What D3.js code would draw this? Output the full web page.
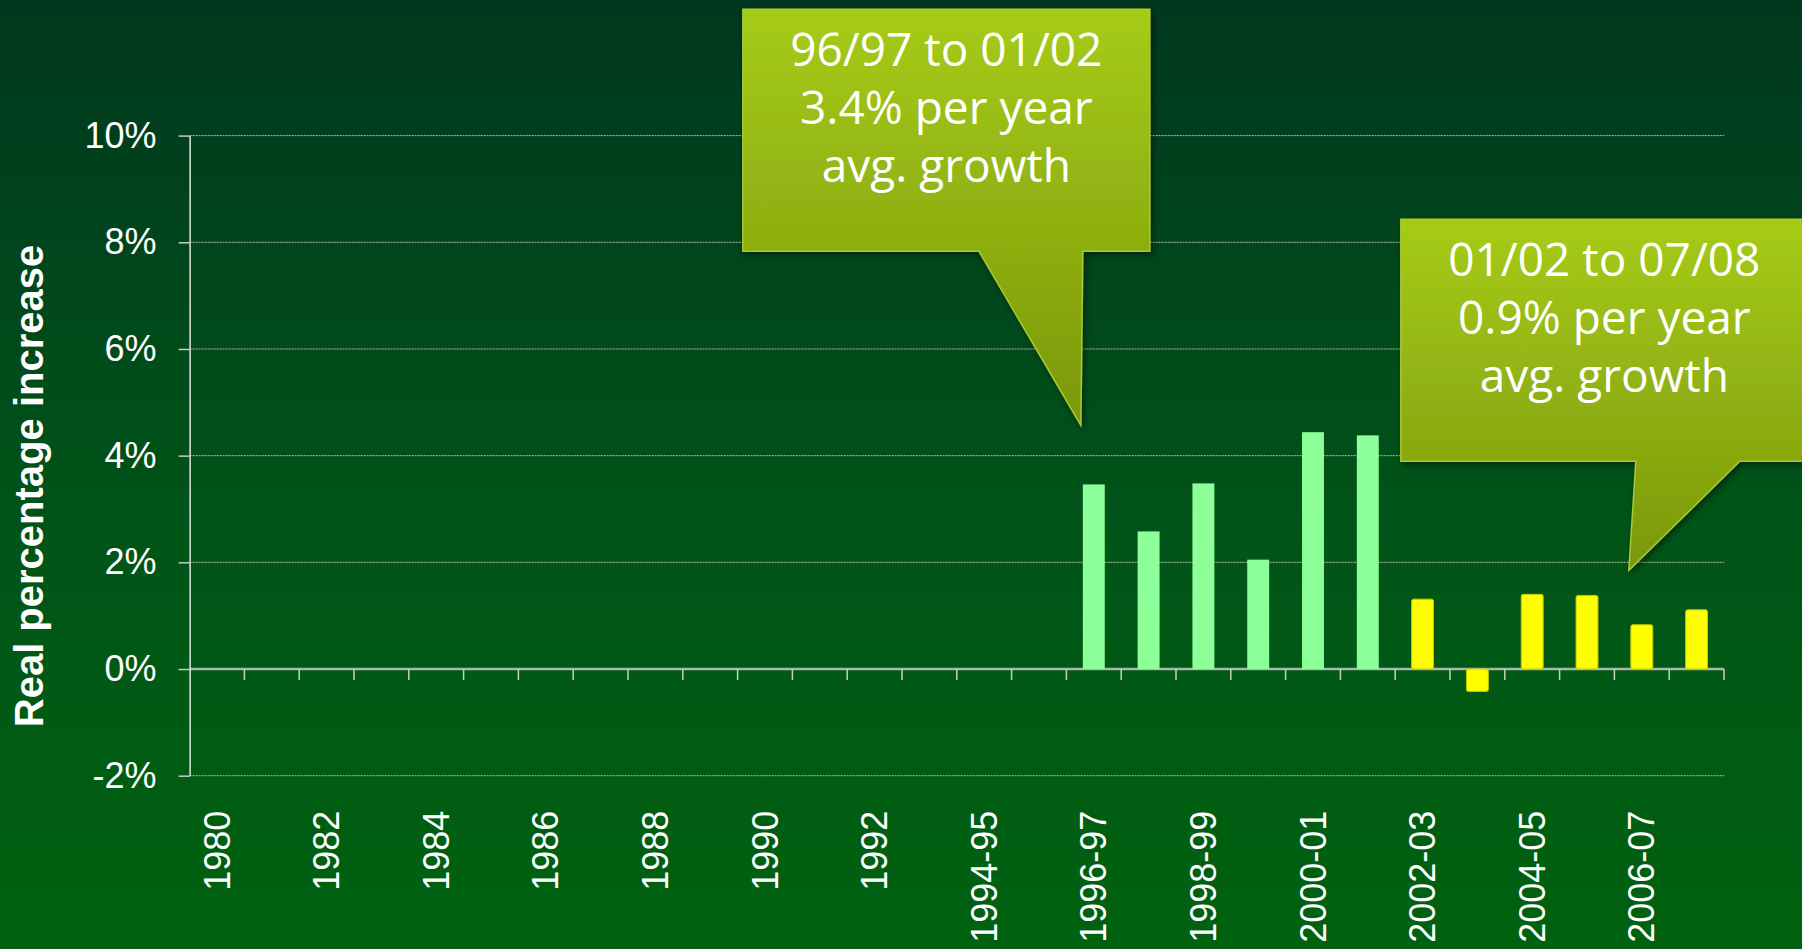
<!DOCTYPE html>
<html>
<head>
<meta charset="utf-8">
<script src="https://cdn.jsdelivr.net/npm/d3@7"></script>
<style>
body { margin: 0; overflow: hidden; background: #004a1a; }
</style>
</head>
<body>
<script>
var width = 1802, height = 949;
var axisFont = "'Liberation Sans', Arial, sans-serif";
var calloutFont = "'Open Sans', 'Noto Sans', sans-serif";

// categories along the x axis (one slot per year / financial year)
var categories = ["1980", "1981", "1982", "1983", "1984", "1985", "1986", "1987",
    "1988", "1989", "1990", "1991", "1992", "1993", "1994-95", "1995-96",
    "1996-97", "1997-98", "1998-99", "1999-00", "2000-01", "2001-02",
    "2002-03", "2003-04", "2004-05", "2005-06", "2006-07", "2007-08"];
var labelledCategories = ["1980", "1982", "1984", "1986", "1988", "1990", "1992",
    "1994-95", "1996-97", "1998-99", "2000-01", "2002-03", "2004-05", "2006-07"];

// real percentage increase, only the years that have a bar
var growthYears = ["1996-97", "1997-98", "1998-99", "1999-00", "2000-01", "2001-02",
    "2002-03", "2003-04", "2004-05", "2005-06", "2006-07", "2007-08"];
var growthValues = [3.46, 2.58, 3.48, 2.05, 4.44, 4.38, 1.31, -0.42, 1.40, 1.38, 0.83, 1.11];
var growthPeriod = ["early", "early", "early", "early", "early", "early",
    "late", "late", "late", "late", "late", "late"];

var yTicks = [-2, 0, 2, 4, 6, 8, 10];

// callouts: the bar they point at, the value of the tip and their text
var calloutYears = ["1996-97", "2006-07"];
var calloutTips = [4.57, 1.85];
var calloutText = [
    ["96/97 to 01/02", "3.4% per year", "avg. growth"],
    ["01/02 to 07/08", "0.9% per year", "avg. growth"]
];

var periodColor = {early: "#8cff99", late: "#ffff00"};

var plot = {left: 189.6, right: 1724, top: 135.6, bottom: 775.7};

var svg = d3.select("body").append("svg")
    .attr("width", width)
    .attr("height", height);

var defs = svg.append("defs");

var bg = defs.append("linearGradient").attr("id", "bg")
    .attr("x1", 0).attr("y1", 0).attr("x2", 0).attr("y2", 1);
bg.append("stop").attr("offset", "0%").attr("stop-color", "#00381f");
bg.append("stop").attr("offset", "55%").attr("stop-color", "#005418");
bg.append("stop").attr("offset", "100%").attr("stop-color", "#006210");

var cg = defs.append("linearGradient").attr("id", "callout")
    .attr("x1", 0).attr("y1", 0).attr("x2", 0).attr("y2", 1);
cg.append("stop").attr("offset", "0%").attr("stop-color", "#a6cb14");
cg.append("stop").attr("offset", "100%").attr("stop-color", "#7b970f");

var shadow = defs.append("filter").attr("id", "shadow")
    .attr("x", "-10%").attr("y", "-10%").attr("width", "130%").attr("height", "130%");
shadow.append("feDropShadow")
    .attr("dx", 2).attr("dy", 3).attr("stdDeviation", 3)
    .attr("flood-color", "#000").attr("flood-opacity", 0.45);

svg.append("rect")
    .attr("width", width).attr("height", height)
    .attr("fill", "url(#bg)");

// scales
var x = d3.scaleBand()
    .domain(categories)
    .range([plot.left, plot.right])
    .paddingInner(0.6)
    .paddingOuter(0.3);

var y = d3.scaleLinear()
    .domain([-2, 10])
    .range([plot.bottom, plot.top]);

// dotted gridlines
svg.append("g").selectAll("line")
    .data(yTicks.filter(function (d) { return d !== 0; }))
    .enter().append("line")
    .attr("x1", plot.left).attr("x2", plot.right)
    .attr("y1", function (d) { return y(d); })
    .attr("y2", function (d) { return y(d); })
    .attr("stroke", "#b4bcb4")
    .attr("stroke-width", 1)
    .attr("stroke-dasharray", "2,1");

// zero line
svg.append("line")
    .attr("x1", plot.left).attr("x2", plot.right)
    .attr("y1", y(0)).attr("y2", y(0))
    .attr("stroke", "#a9b9a9")
    .attr("stroke-width", 2.5);

// category boundary ticks
var boundaries = d3.range(1, categories.length + 1).map(function (i) {
    return plot.left + i * x.step();
});
svg.append("g").selectAll("line")
    .data(boundaries)
    .enter().append("line")
    .attr("x1", function (d) { return d; })
    .attr("x2", function (d) { return d; })
    .attr("y1", y(0)).attr("y2", y(0) + 11)
    .attr("stroke", "#c4cec4")
    .attr("stroke-width", 1.5);

// bars
svg.append("g").selectAll("rect")
    .data(growthValues)
    .enter().append("rect")
    .attr("x", function (d, i) { return x(growthYears[i]); })
    .attr("width", x.bandwidth())
    .attr("y", function (d) { return y(Math.max(0, d)); })
    .attr("height", function (d) { return Math.abs(y(d) - y(0)); })
    .attr("rx", function (d, i) { return growthPeriod[i] === "late" ? 2 : 0; })
    .attr("fill", function (d, i) { return periodColor[growthPeriod[i]]; })
    .attr("stroke", function (d, i) { return growthPeriod[i] === "late" ? "#c8c400" : "none"; })
    .attr("stroke-width", 1);

// y axis
var yAxis = svg.append("g")
    .attr("transform", "translate(" + plot.left + ",0)")
    .call(d3.axisLeft(y)
        .tickValues(yTicks)
        .tickSize(11)
        .tickSizeOuter(0)
        .tickPadding(22)
        .tickFormat(function (d) { return d + "%"; }));
yAxis.select(".domain").attr("stroke", "#dfe7df").attr("stroke-width", 1.5);
yAxis.selectAll(".tick line").attr("stroke", "#c4cec4").attr("stroke-width", 1.5);
yAxis.selectAll(".tick text")
    .attr("fill", "#ffffff")
    .style("font-family", axisFont)
    .style("font-size", "36px");

// x labels, rotated
var xAxis = svg.append("g")
    .attr("transform", "translate(0," + (plot.bottom + 35) + ")")
    .call(d3.axisBottom(x).tickValues(labelledCategories).tickSize(0));
xAxis.select(".domain").remove();
xAxis.selectAll(".tick text")
    .attr("x", 0).attr("y", 0)
    .attr("dy", "0.35em")
    .attr("transform", "rotate(-90)")
    .style("text-anchor", "end")
    .attr("fill", "#ffffff")
    .style("font-family", axisFont)
    .style("font-size", "36px");

// y title
svg.append("text")
    .attr("transform", "translate(43,486) rotate(-90)")
    .style("text-anchor", "middle")
    .style("font-family", axisFont)
    .style("font-size", "40px")
    .style("font-weight", "bold")
    .attr("fill", "#ffffff")
    .text("Real percentage increase");

// callouts
var boxW = 407, boxH = 242;
var calloutLayout = [
    {dx: -338, dy: -416, base0: 236, base1: 340},
    {dx: -228, dy: -351, base0: 235, base1: 339}
];

calloutYears.forEach(function (year, i) {
    var tipX = x(year) - 2;
    var tipY = y(calloutTips[i]);
    var lay = calloutLayout[i];
    var L = tipX + lay.dx, T = tipY + lay.dy;

    var path = d3.path();
    path.moveTo(L, T);
    path.lineTo(L + boxW, T);
    path.lineTo(L + boxW, T + boxH);
    path.lineTo(L + lay.base1, T + boxH);
    path.lineTo(tipX, tipY);
    path.lineTo(L + lay.base0, T + boxH);
    path.lineTo(L, T + boxH);
    path.closePath();

    svg.append("path")
        .attr("d", path.toString())
        .attr("fill", "url(#callout)")
        .attr("stroke", "#a9c934")
        .attr("stroke-width", 1.5)
        .attr("stroke-linejoin", "miter")
        .attr("filter", "url(#shadow)");

    svg.append("g").selectAll("text")
        .data(calloutText[i])
        .enter().append("text")
        .attr("x", L + boxW / 2)
        .attr("y", function (d, j) { return T + 56.5 + j * 58; })
        .style("text-anchor", "middle")
        .style("font-family", calloutFont)
        .style("font-size", "46px")
        .attr("fill", "#ffffff")
        .text(function (d) { return d; });
});
</script>
</body>
</html>
